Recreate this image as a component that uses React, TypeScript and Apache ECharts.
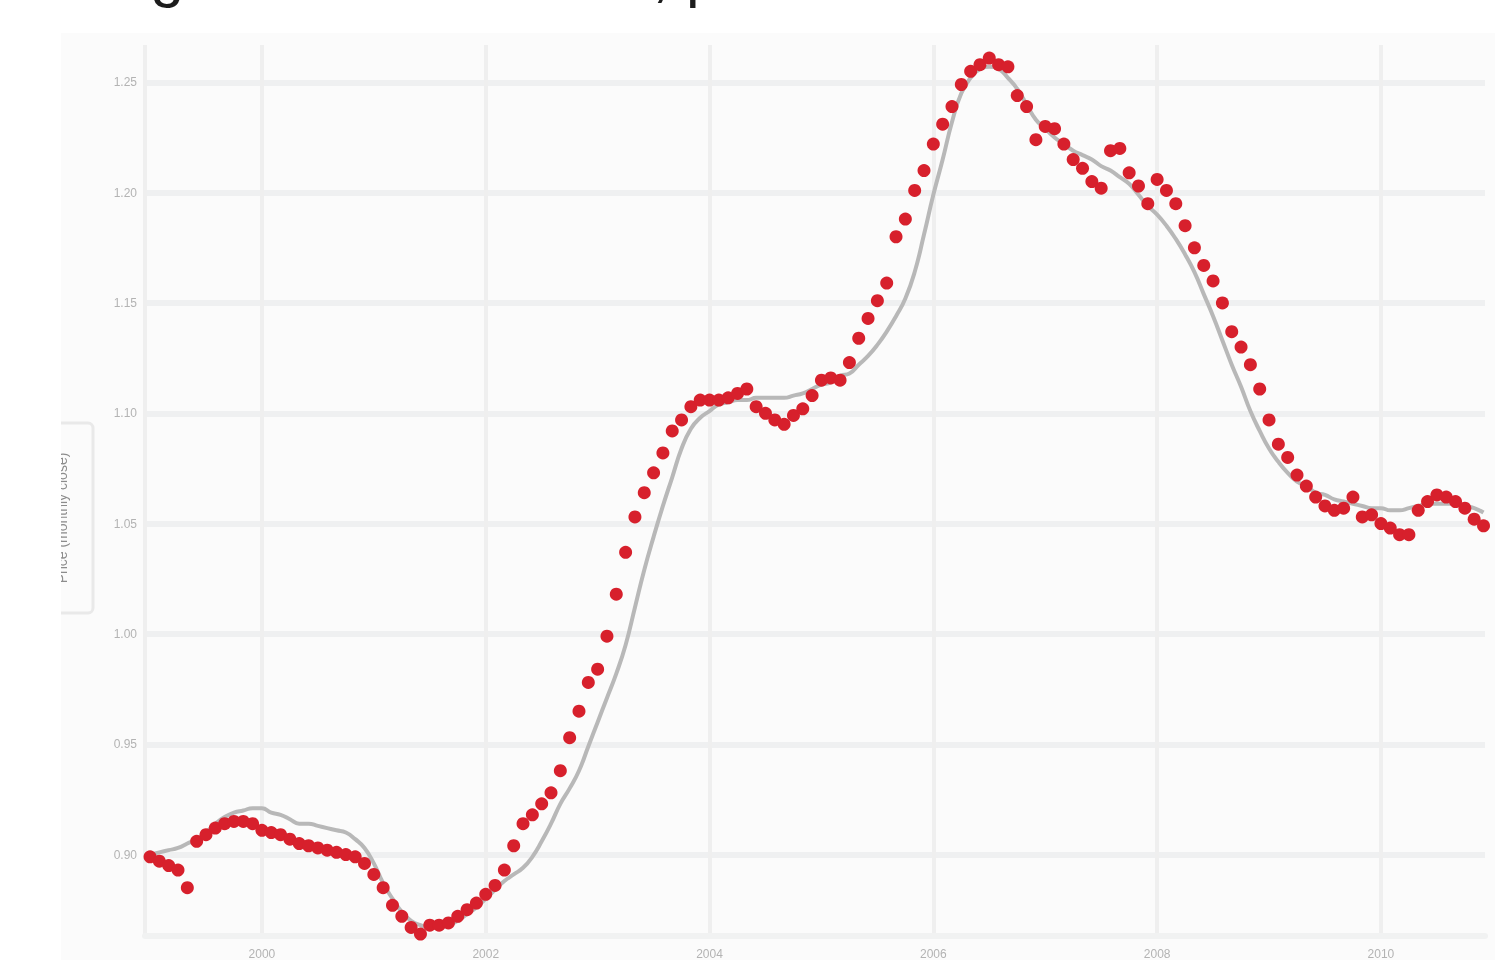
import React, { useEffect, useRef } from "react";
import * as echarts from "echarts";

// Monthly series, first observation in January of START_YEAR.
const START_YEAR = 1999;
const TITLE = "Signal and trend line, price";
const AXIS_NAME = "Price (monthly close)";
const X_TICK_YEARS = [2000, 2002, 2004, 2006, 2008, 2010];
const Y_TICKS = [0.9, 0.95, 1.0, 1.05, 1.1, 1.15, 1.2, 1.25];

// Monthly close values (red markers).
const monthlyClose = [
  0.899, 0.897, 0.895, 0.893, 0.885, 0.906, 0.909, 0.912, 0.914, 0.915,
  0.915, 0.914, 0.911, 0.910, 0.909, 0.907, 0.905, 0.904, 0.903, 0.902,
  0.901, 0.900, 0.899, 0.896, 0.891, 0.885, 0.877, 0.872, 0.867, 0.864,
  0.868, 0.868, 0.869, 0.872, 0.875, 0.878, 0.882, 0.886, 0.893, 0.904,
  0.914, 0.918, 0.923, 0.928, 0.938, 0.953, 0.965, 0.978, 0.984, 0.999,
  1.018, 1.037, 1.053, 1.064, 1.073, 1.082, 1.092, 1.097, 1.103, 1.106,
  1.106, 1.106, 1.107, 1.109, 1.111, 1.103, 1.100, 1.097, 1.095, 1.099,
  1.102, 1.108, 1.115, 1.116, 1.115, 1.123, 1.134, 1.143, 1.151, 1.159,
  1.180, 1.188, 1.201, 1.210, 1.222, 1.231, 1.239, 1.249, 1.255, 1.258,
  1.261, 1.258, 1.257, 1.244, 1.239, 1.224, 1.230, 1.229, 1.222, 1.215,
  1.211, 1.205, 1.202, 1.219, 1.220, 1.209, 1.203, 1.195, 1.206, 1.201,
  1.195, 1.185, 1.175, 1.167, 1.160, 1.150, 1.137, 1.130, 1.122, 1.111,
  1.097, 1.086, 1.080, 1.072, 1.067, 1.062, 1.058, 1.056, 1.057, 1.062,
  1.053, 1.054, 1.050, 1.048, 1.045, 1.045, 1.056, 1.060, 1.063, 1.062,
  1.060, 1.057, 1.052, 1.049,
];

// Smoothed trend (grey line).
const trendLine = [
  0.900, 0.901, 0.902, 0.903, 0.905, 0.907, 0.910, 0.914, 0.917, 0.919,
  0.920, 0.921, 0.921, 0.919, 0.918, 0.916, 0.914, 0.914, 0.913, 0.912,
  0.911, 0.910, 0.907, 0.903, 0.896, 0.887, 0.880, 0.874, 0.870, 0.868,
  0.867, 0.867, 0.868, 0.870, 0.873, 0.876, 0.880, 0.884, 0.888, 0.891,
  0.894, 0.899, 0.906, 0.914, 0.923, 0.930, 0.938, 0.949, 0.960, 0.971,
  0.982, 0.995, 1.012, 1.029, 1.044, 1.058, 1.071, 1.084, 1.093, 1.098,
  1.101, 1.104, 1.105, 1.106, 1.106, 1.107, 1.107, 1.107, 1.107, 1.108,
  1.109, 1.111, 1.113, 1.114, 1.117, 1.118, 1.122, 1.126, 1.131, 1.137,
  1.144, 1.152, 1.164, 1.181, 1.199, 1.215, 1.232, 1.245, 1.252, 1.256,
  1.257, 1.256, 1.252, 1.247, 1.240, 1.233, 1.229, 1.225, 1.222, 1.219,
  1.217, 1.215, 1.212, 1.210, 1.207, 1.204, 1.199, 1.194, 1.190, 1.185,
  1.179, 1.172, 1.164, 1.154, 1.144, 1.133, 1.122, 1.112, 1.101, 1.092,
  1.084, 1.078, 1.073, 1.069, 1.067, 1.064, 1.063, 1.061, 1.060, 1.059,
  1.058, 1.057, 1.057, 1.056, 1.056, 1.057, 1.058, 1.059, 1.059, 1.059,
  1.059, 1.058, 1.057, 1.055,
];

const FONT = '"Liberation Sans", Arial, sans-serif';

const isTick = (list: number[], v: number, eps: number) =>
  list.some((t) => Math.abs(t - v) < eps);

export default function App() {
  const ref = useRef<HTMLDivElement>(null);

  useEffect(() => {
    const el = ref.current;
    if (!el) return;
    const chart = echarts.init(el, null, { renderer: "svg" });

    const closePoints = monthlyClose.map((v, i) => [START_YEAR + i / 12, v]);
    const trendPoints = trendLine.map((v, i) => [START_YEAR + i / 12, v]);

    chart.setOption({
      animation: false,
      backgroundColor: "transparent",
      textStyle: { fontFamily: FONT },
      grid: { left: 145, right: 10, top: 45, bottom: 18, containLabel: false },
      xAxis: {
        type: "value",
        min: 1998.955,
        max: 2010.93,
        splitNumber: 6,
        axisLine: { show: true, onZero: false, lineStyle: { color: "#f1f2f2", width: 6 } },
        axisTick: { show: false },
        axisLabel: {
          color: "#b3b3b3",
          fontSize: 12,
          margin: 12,
          showMinLabel: false,
          showMaxLabel: false,
          formatter: (v: number) =>
            isTick(X_TICK_YEARS, v, 1e-6) ? String(Math.round(v)) : "",
        },
        splitLine: {
          show: true,
          showMinLine: true,
          showMaxLine: false,
          lineStyle: { color: "#efefef", width: 4 },
        },
      },
      yAxis: {
        type: "value",
        min: 0.8631,
        max: 1.2669,
        splitNumber: 8,
        axisLine: { show: false },
        axisTick: { show: false },
        axisLabel: {
          color: "#b3b3b3",
          fontSize: 12,
          margin: 8,
          showMinLabel: false,
          showMaxLabel: false,
          formatter: (v: number) => (isTick(Y_TICKS, v, 1e-6) ? v.toFixed(2) : ""),
        },
        splitLine: {
          show: true,
          showMinLine: false,
          showMaxLine: false,
          lineStyle: { color: "#eff0f1", width: 6 },
        },
      },
      graphic: [
        {
          type: "text",
          x: 96,
          y: -26,
          style: {
            text: TITLE,
            fontSize: 61,
            fontFamily: FONT,
            fill: "#1c1c1c",
            align: "left",
            verticalAlign: "middle",
          },
        },
        {
          type: "rect",
          shape: { x: 28, y: 423, width: 65, height: 190, r: 5 },
          style: { fill: "none", stroke: "#e9e9e9", lineWidth: 3 },
        },
        {
          type: "text",
          x: 62,
          y: 518,
          rotation: Math.PI / 2,
          style: {
            text: AXIS_NAME,
            fontSize: 14,
            fontFamily: FONT,
            fill: "#8c8c8c",
            align: "center",
            verticalAlign: "middle",
          },
        },
        {
          type: "rect",
          z: 100,
          shape: { x: 0, y: 33, width: 61, height: 927 },
          style: { fill: "#ffffff" },
        },
      ],
      series: [
        {
          type: "line",
          data: trendPoints,
          showSymbol: false,
          smooth: true,
          lineStyle: { color: "#b8b8b8", width: 4 },
          z: 2,
        },
        {
          type: "scatter",
          data: closePoints,
          symbolSize: 13,
          clip: false,
          itemStyle: { color: "#d7202c", opacity: 1 },
          z: 3,
        },
      ],
    });

    return () => chart.dispose();
  }, []);

  return (
    <>
      <div
        style={{
          position: "fixed",
          left: 61,
          top: 33,
          width: 1434,
          height: 927,
          background: "#fbfbfb",
        }}
      />
      <div
        ref={ref}
        style={{ position: "fixed", left: 0, top: 0, width: 1495, height: 960 }}
      />
    </>
  );
}
